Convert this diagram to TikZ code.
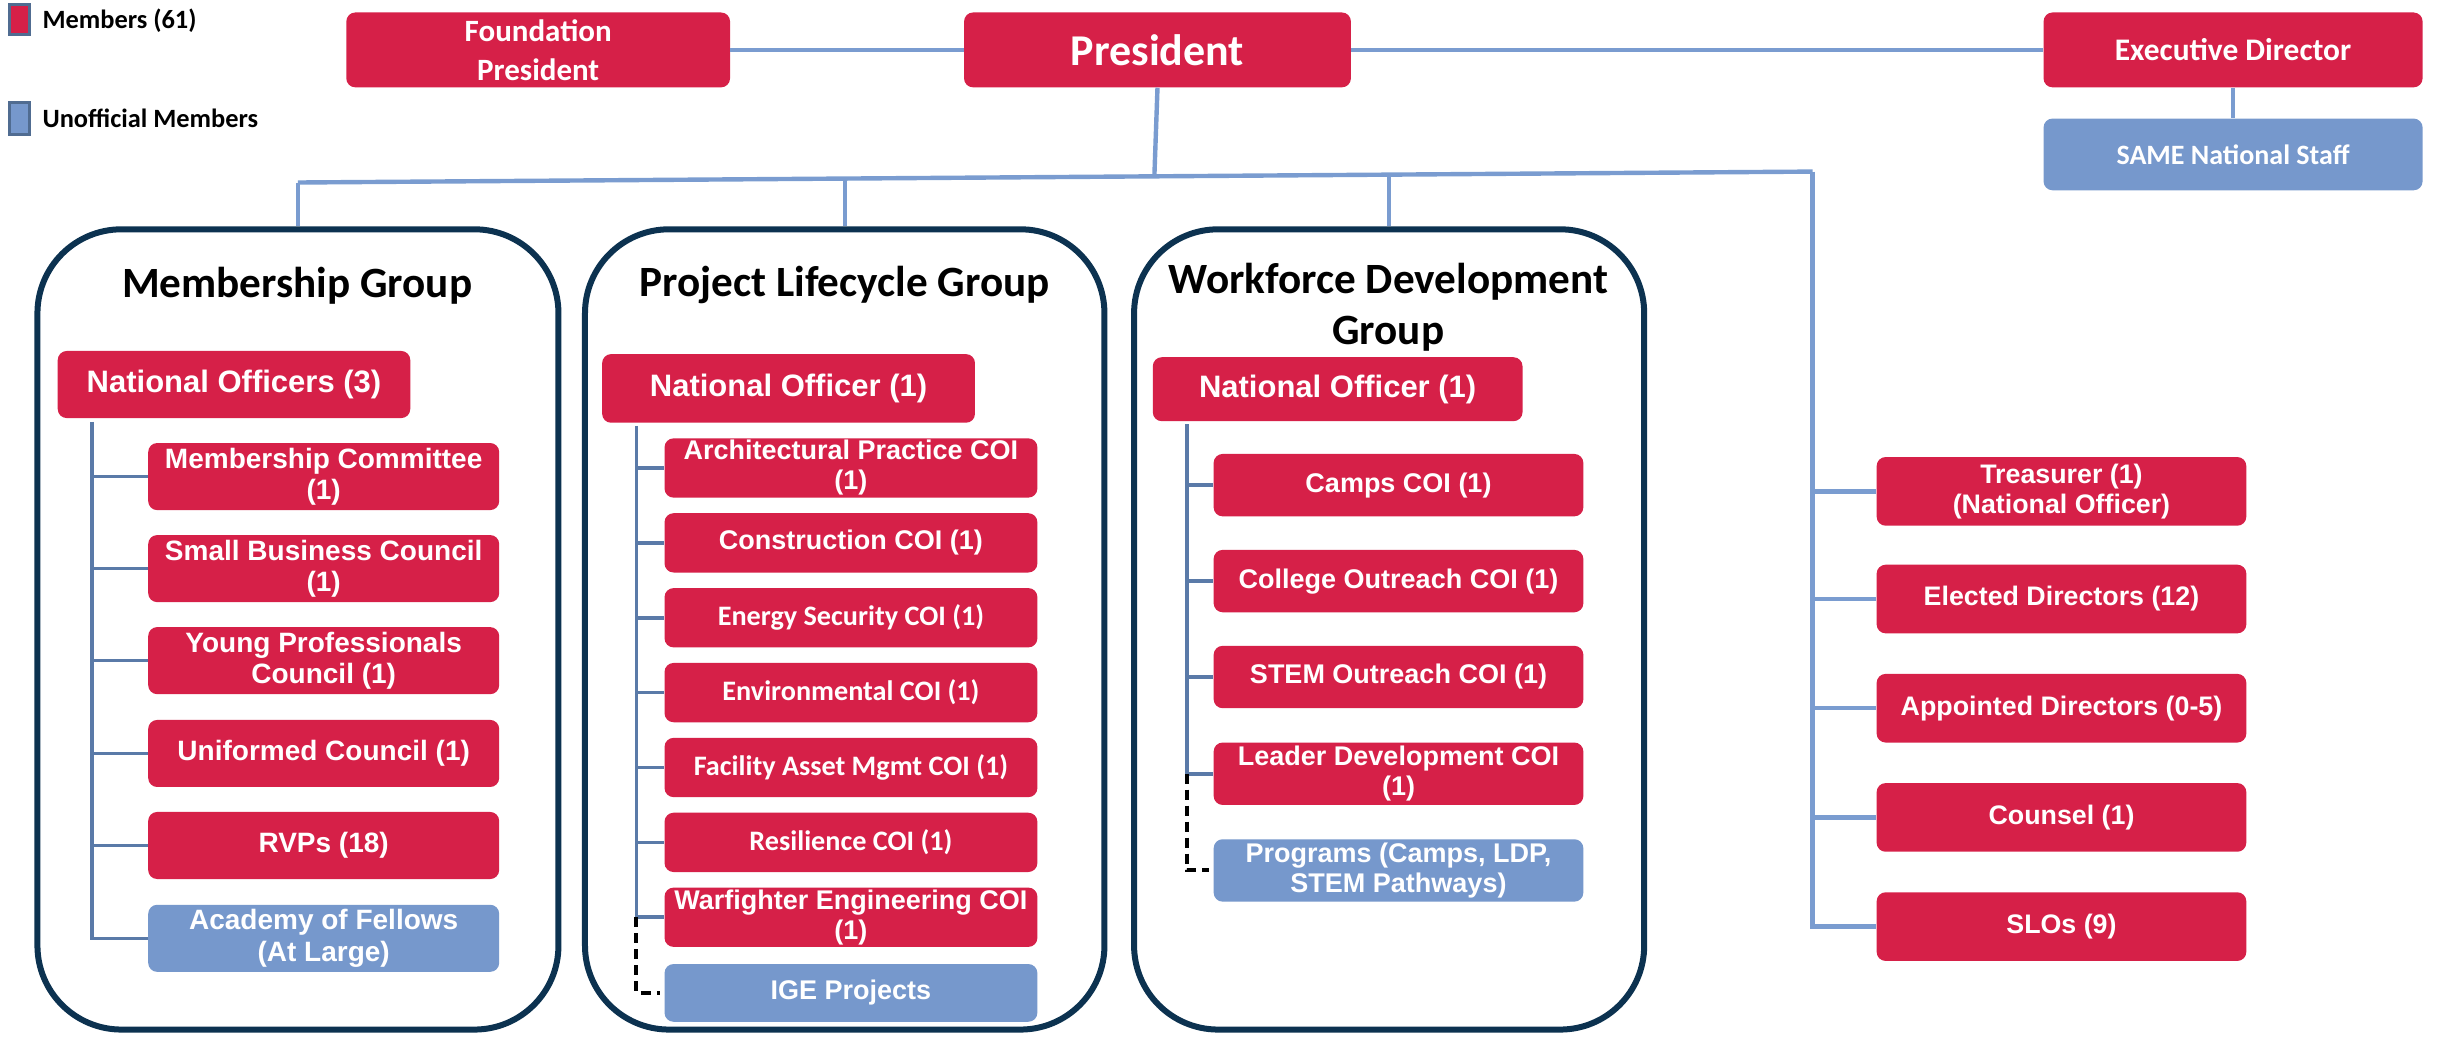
\documentclass[tikz,border=0pt]{standalone}
\usepackage{fontspec}
\setmainfont{Liberation Sans}
\newfontfamily\calfont{Carlito}
\definecolor{crim}{RGB}{214,32,72}
\definecolor{lblue}{RGB}{118,152,204}
\definecolor{navy}{RGB}{12,50,80}
\definecolor{conn}{RGB}{122,156,208}
\definecolor{inln}{RGB}{90,122,168}
\definecolor{legb}{RGB}{80,108,145}
\newcommand\bx[7]{\node[#2, minimum width={(#5-#3)*0.78pt}, minimum height={(#6-#4)*0.78pt}] (#1) at ({(#3+#5)/2},{(#4+#6)/2}) {#7};}
\tikzset{
  rbox/.style={rectangle, rounded corners=4.5pt, fill=crim, text=white, align=center, inner sep=0pt},
  bbox/.style={rbox, fill=lblue},
  grp/.style={rectangle, draw=navy, line width=3pt, rounded corners=42pt, fill=white, inner sep=0pt},
  topln/.style={draw=conn, line width=2.2pt},
  inln/.style={draw=inln, line width=1.8pt},
  dsh/.style={draw=black, line width=2pt, dash pattern=on 5pt off 3pt},
  fsm/.style={font=\bfseries\fontsize{13.5}{15}\selectfont},
  fcal/.style={font=\calfont\bfseries\fontsize{14.1}{15.5}\selectfont},
  fmem/.style={font=\bfseries\fontsize{14}{15.6}\selectfont},
  fno/.style={font=\bfseries\fontsize{15.5}{17}\selectfont},
  frt/.style={font=\bfseries\fontsize{13.4}{15}\selectfont},
  ttl/.style={font=\calfont\bfseries\fontsize{21.6}{25.7}\selectfont, align=center, inner sep=0pt},
  leg/.style={font=\calfont\bfseries\fontsize{13.2}{14}\selectfont, anchor=west, inner sep=0pt},
  legsq/.style={rectangle, draw=legb, line width=1.5pt, inner sep=0pt}
}
\begin{document}
\begin{tikzpicture}[x=0.78pt,y=-0.78pt]
\useasboundingbox (0,0) rectangle (1568,668);
% legend
\bx{lgr}{legsq,fill=crim}{6}{3}{19}{22}{}
\node[leg] (lgrt) at (27,13) {Members (61)};
\bx{lgb}{legsq,fill=lblue}{6}{66}{19}{86}{}
\node[leg] (lgbt) at (27,76) {Unofficial Members};
% top row
\bx{fp}{rbox,font=\calfont\bfseries\fontsize{15.5}{19.5}\selectfont}{222}{8}{468}{56}{Foundation\\President}
\bx{pres}{rbox,font=\calfont\bfseries\fontsize{22}{24}\selectfont}{618}{8}{866}{56}{President}
\bx{exd}{rbox,font=\calfont\bfseries\fontsize{15.7}{17}\selectfont}{1310}{8}{1553}{56}{Executive Director}
\bx{same}{bbox,font=\calfont\bfseries\fontsize{14}{16}\selectfont}{1310}{76}{1553}{122}{SAME National Staff}
\draw[topln] (fp.east) -- (pres.west);
\draw[topln] (pres.east) -- (exd.west);
\draw[topln] (exd.south) -- (same.north);
% bus
\coordinate (bl) at (191,117);
\coordinate (b2) at (541.5,114.5);
\coordinate (pb) at (740,113);
\coordinate (b3) at (890.5,112);
\coordinate (br) at (1162,110);
\draw[topln] (pres.south) -- (pb);
\draw[topln] (bl) -- (br);
% groups
\bx{g1}{grp}{24}{147}{358}{660}{}
\bx{g2}{grp}{375}{147}{708}{660}{}
\bx{g3}{grp}{727}{147}{1054}{660}{}
\draw[topln] (bl) -- (g1.north);
\draw[topln] (b2) -- (g2.north);
\draw[topln] (b3) -- (g3.north);
\node[ttl] (t1) at (190.5,183) {Membership Group};
\node[ttl] (t2) at (541.5,183) {Project Lifecycle Group};
\node[ttl] (t3) at (890,197) {Workforce Development\\Group};
% group 1
\bx{no1}{rbox,fno}{37}{225}{263}{268}{National Officers (3)}
\bx{mc1}{rbox,fmem}{95}{284}{320}{327}{Membership Committee\\(1)}
\bx{mc2}{rbox,fmem}{95}{343}{320}{386}{Small Business Council\\(1)}
\bx{mc3}{rbox,fmem}{95}{402}{320}{445}{Young Professionals\\Council (1)}
\bx{mc4}{rbox,fmem}{95}{461.5}{320}{504.5}{Uniformed Council (1)}
\bx{mc5}{rbox,fmem}{95}{520.5}{320}{563.5}{RVPs (18)}
\bx{mc6}{bbox,fmem}{95}{580}{320}{623}{Academy of Fellows\\(At Large)}
\coordinate (m0) at (59,270.5);
\draw[inln] (m0) |- (mc6.west);
\foreach \i in {1,...,5} {\draw[inln] (m0 |- mc\i.west) -- (mc\i.west);}
% group 2
\bx{no2}{rbox,fno}{386}{227}{625}{271}{National Officer (1)}
\bx{pc1}{rbox,fsm}{426}{281}{665}{319}{Architectural Practice COI\\(1)}
\bx{pc2}{rbox,fsm}{426}{329}{665}{367}{Construction COI (1)}
\bx{pc3}{rbox,fcal}{426}{377}{665}{415}{Energy Security COI (1)}
\bx{pc4}{rbox,fcal}{426}{425}{665}{463}{Environmental COI (1)}
\bx{pc5}{rbox,fcal}{426}{473}{665}{511}{Facility Asset Mgmt COI (1)}
\bx{pc6}{rbox,fcal}{426}{521}{665}{559}{Resilience COI (1)}
\bx{pc7}{rbox,fsm}{426}{569}{665}{607}{Warfighter Engineering COI\\(1)}
\bx{pc8}{bbox,fsm}{426}{618}{665}{655}{IGE Projects}
\coordinate (p0) at (408,273);
\draw[inln] (p0) |- (pc7.west);
\foreach \i in {1,...,6} {\draw[inln] (p0 |- pc\i.west) -- (pc\i.west);}
\draw[dsh] (p0 |- pc7.west) |- ([xshift=-2pt]pc8.west);
% group 3
\bx{no3}{rbox,fno}{739}{229}{976}{270}{National Officer (1)}
\bx{wc1}{rbox,fsm}{778}{291}{1015}{331}{Camps COI (1)}
\bx{wc2}{rbox,fsm}{778}{352.5}{1015}{392.5}{College Outreach COI (1)}
\bx{wc3}{rbox,fsm}{778}{414}{1015}{454}{STEM Outreach COI (1)}
\bx{wc4}{rbox,fsm}{778}{476}{1015}{516}{Leader Development COI\\(1)}
\bx{wc5}{bbox,fsm}{778}{538}{1015}{578}{Programs (Camps, LDP,\\STEM Pathways)}
\coordinate (w0) at (761,272);
\draw[inln] (w0) |- (wc4.west);
\foreach \i in {1,...,3} {\draw[inln] (w0 |- wc\i.west) -- (wc\i.west);}
\draw[dsh] (w0 |- wc4.west) |- ([xshift=-2pt]wc5.west);
% right column
\bx{r1}{rbox,frt}{1203}{293}{1440}{337}{Treasurer (1)\\(National Officer)}
\bx{r2}{rbox,frt}{1203}{362}{1440}{406}{Elected Directors (12)}
\bx{r3}{rbox,frt}{1203}{432}{1440}{476}{Appointed Directors (0-5)}
\bx{r4}{rbox,frt}{1203}{502}{1440}{546}{Counsel (1)}
\bx{r5}{rbox,frt}{1203}{572}{1440}{616}{SLOs (9)}
\draw[topln] (br) |- (r5.west);
\foreach \i in {1,...,4} {\draw[topln] (br |- r\i.west) -- (r\i.west);}
\end{tikzpicture}
\end{document}
